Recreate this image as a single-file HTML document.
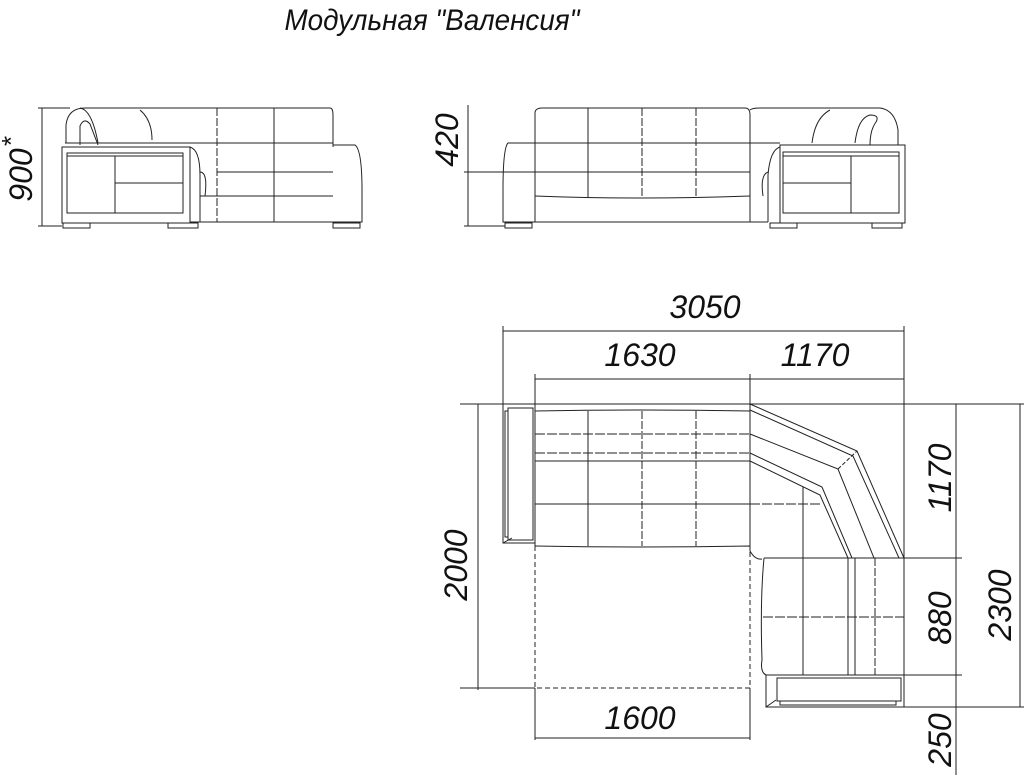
<!DOCTYPE html>
<html><head><meta charset="utf-8"><style>
html,body{margin:0;padding:0;background:#fff;}
svg{display:block}
text{font-family:"Liberation Sans Narrow","Liberation Sans",sans-serif;font-style:italic;font-weight:300;fill:#111;}
</style></head><body>
<svg width="1024" height="775" viewBox="0 0 1024 775" xmlns="http://www.w3.org/2000/svg">
<text x="432" y="30" font-size="30" text-anchor="middle" textLength="295" lengthAdjust="spacingAndGlyphs">Модульная "Валенсия"</text>

<!-- LEFT FRONT VIEW -->
<g fill="none" stroke="#222" stroke-width="1">
<line x1="42" y1="108" x2="42" y2="226"/>
<line x1="38" y1="108" x2="70" y2="108"/>
<line x1="38" y1="226" x2="62" y2="226"/>
<path d="M66 143 V125 Q68 108 85 108 H330 Q333 108 333 115 V147"/>
<path d="M80 145 V126 Q84 117 90 124 L98 145"/>
<path d="M98 143 Q92 110 80 108"/>
<path d="M140 110 Q152 120 152 140"/>
<line x1="65" y1="143" x2="333" y2="143"/>
<line x1="217" y1="108" x2="217" y2="222" stroke-dasharray="8 2"/>
<line x1="274" y1="108" x2="274" y2="222"/>
<line x1="217" y1="172" x2="333" y2="172"/>
<line x1="200" y1="196" x2="333" y2="196"/>
<path d="M190 147 Q200 150 200 175 V222"/>
<path d="M200 172 Q208 172 205 196"/>
<path d="M333 145 H355 Q362 150 362 190 V222 H190"/>
<rect x="62" y="147" width="128" height="76"/>
<rect x="67" y="153" width="116" height="60"/>
<line x1="67" y1="156" x2="183" y2="156"/>
<line x1="115" y1="156" x2="115" y2="213"/>
<line x1="115" y1="183" x2="183" y2="183"/>
<rect x="63" y="223" width="27" height="5"/>
<rect x="168" y="223" width="30" height="5"/>
<rect x="333" y="223" width="27" height="5"/>
</g>
<text transform="translate(32,175) rotate(-90)" font-size="32" text-anchor="middle">900</text>
<text transform="translate(20,142) rotate(-90)" font-size="26" font-weight="bold" text-anchor="middle">*</text>

<!-- RIGHT FRONT VIEW -->
<g fill="none" stroke="#222" stroke-width="1">
<line x1="468" y1="105" x2="468" y2="226"/>
<line x1="464" y1="172" x2="540" y2="172"/>
<line x1="464" y1="226" x2="505" y2="226"/>
<path d="M535 143 V112 Q536 108 542 108 H745 Q750 108 750 115 V143"/>
<path d="M750 110 Q752 108 760 108 H880 Q895 110 898 130 V145"/>
<path d="M812 143 Q815 118 830 110"/>
<path d="M855 143 Q858 118 870 115 Q880 115 876 122 Q870 130 870 145"/>
<line x1="535" y1="143" x2="780" y2="143"/>
<line x1="588" y1="108" x2="588" y2="197"/>
<line x1="642" y1="108" x2="642" y2="197" stroke-dasharray="8 2"/>
<line x1="696" y1="108" x2="696" y2="197" stroke-dasharray="8 2"/>
<line x1="535" y1="172" x2="750" y2="172"/>
<path d="M535 196 Q640 200 750 196"/>
<line x1="750" y1="143" x2="750" y2="222"/>
<path d="M780 147 Q770 150 768 175 V222"/>
<path d="M768 172 Q760 175 763 196"/>
<path d="M535 143 H508 Q503 148 503 190 V222 H768"/>
<line x1="535" y1="143" x2="535" y2="222"/>
<rect x="780" y="145" width="125" height="78"/>
<rect x="783" y="152" width="116" height="61"/>
<line x1="783" y1="156" x2="899" y2="156"/>
<line x1="851" y1="156" x2="851" y2="213"/>
<line x1="783" y1="183" x2="851" y2="183"/>
<rect x="505" y="223" width="27" height="5"/>
<rect x="770" y="223" width="27" height="5"/>
<rect x="872" y="223" width="30" height="5"/>
</g>
<text transform="translate(458,140) rotate(-90)" font-size="32" text-anchor="middle">420</text>

<!-- PLAN VIEW -->
<g fill="none" stroke="#222" stroke-width="1">
<line x1="503" y1="326" x2="503" y2="404"/>
<line x1="904" y1="326" x2="904" y2="560"/>
<line x1="503" y1="331" x2="904" y2="331"/>
<line x1="535" y1="374" x2="535" y2="546"/>
<line x1="535" y1="688" x2="535" y2="740"/>
<line x1="750" y1="374" x2="750" y2="546"/>
<line x1="750" y1="688" x2="750" y2="740"/>
<line x1="535" y1="379" x2="904" y2="379"/>
<line x1="460" y1="404" x2="1024" y2="404"/>
<line x1="478" y1="404" x2="478" y2="690"/>
<line x1="460" y1="688" x2="535" y2="688"/>
<line x1="535" y1="738" x2="750" y2="738"/>
<line x1="904" y1="558" x2="962" y2="558"/>
<line x1="904" y1="675" x2="962" y2="675"/>
<line x1="904" y1="707" x2="1024" y2="707"/>
<line x1="956" y1="404" x2="956" y2="775"/>
<line x1="1020" y1="404" x2="1020" y2="707"/>
<rect x="503" y="404" width="32" height="139"/>
<rect x="508" y="408" width="25" height="132"/>
<rect x="505" y="411" width="3" height="126"/>
<line x1="503" y1="543" x2="512" y2="538"/>
<line x1="535" y1="404" x2="750" y2="404"/>
<path d="M535 411 Q640 409 750 411"/>
<line x1="535" y1="434" x2="750" y2="434" stroke-dasharray="10 2"/>
<line x1="535" y1="453" x2="750" y2="453" stroke-dasharray="10 2"/>
<line x1="535" y1="461" x2="750" y2="461"/>
<line x1="535" y1="504" x2="750" y2="504"/>
<path d="M535 546 Q640 548 750 546 V551 Q755 560 762 559"/>
<line x1="588" y1="411" x2="588" y2="546"/>
<line x1="642" y1="411" x2="642" y2="546" stroke-dasharray="8 2"/>
<line x1="696" y1="411" x2="696" y2="546" stroke-dasharray="8 2"/>
<polyline points="750,404 857,451 904,558"/>
<polyline points="750,410 853,456 899,558"/>
<polyline points="750,434 838,469 874,558"/>
<polyline points="750,453 822,487 852,558"/>
<polyline points="750,461 820,495 848,558"/>
<line x1="838" y1="469" x2="857" y2="451" stroke-dasharray="4 2"/>
<line x1="803" y1="487" x2="803" y2="675"/>
<line x1="750" y1="504" x2="822" y2="504" stroke-dasharray="10 2"/>
<path d="M764 558 H904 V677"/>
<path d="M764 558 Q760 600 762 660 Q760 672 766 675"/>
<line x1="848" y1="558" x2="848" y2="675"/>
<line x1="855" y1="558" x2="855" y2="675"/>
<line x1="875" y1="558" x2="875" y2="675" stroke-dasharray="8 2"/>
<line x1="763" y1="617" x2="904" y2="617" stroke-dasharray="10 2"/>
<rect x="766" y="675" width="138" height="32"/>
<rect x="777" y="678" width="124" height="23"/>
<rect x="780" y="701" width="116" height="4"/>
<line x1="766" y1="707" x2="776" y2="700"/>
<path d="M535 546 V688 H750 V546" stroke-dasharray="5 3"/>
</g>
<text x="705" y="318" font-size="32" text-anchor="middle">3050</text>
<text x="640" y="366" font-size="32" text-anchor="middle">1630</text>
<text x="815" y="366" font-size="32" text-anchor="middle">1170</text>
<text x="640" y="729" font-size="32" text-anchor="middle">1600</text>
<text transform="translate(467,565) rotate(-90)" font-size="32" text-anchor="middle">2000</text>
<text transform="translate(951,478) rotate(-90)" font-size="32" text-anchor="middle">1170</text>
<text transform="translate(951,618) rotate(-90)" font-size="32" text-anchor="middle">880</text>
<text transform="translate(951,740) rotate(-90)" font-size="32" text-anchor="middle">250</text>
<text transform="translate(1011,605) rotate(-90)" font-size="32" text-anchor="middle">2300</text>
</svg>
</body></html>
